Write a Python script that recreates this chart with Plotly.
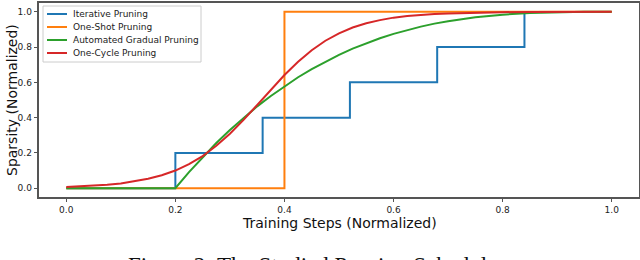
import plotly.graph_objects as go

# ---- data ----
t_grid = [0.0, 0.025, 0.05, 0.075, 0.1, 0.125, 0.15, 0.175, 0.2, 0.225, 0.25, 0.275,
          0.3, 0.325, 0.35, 0.375, 0.4, 0.425, 0.45, 0.475, 0.5, 0.525, 0.55, 0.575,
          0.6, 0.625, 0.65, 0.675, 0.7, 0.75, 0.8, 0.85, 0.9, 0.95, 1.0]

iter_x = [0.0, 0.2, 0.36, 0.52, 0.68, 0.84]
iter_y = [0.0, 0.2, 0.4, 0.6, 0.8, 1.0]

oneshot_x = [0.0, 0.4, 1.0]
oneshot_y = [0.0, 1.0, 1.0]

agp_y = [0.0, 0.0, 0.0, 0.0, 0.0, 0.0, 0.0, 0.0, 0.0, 0.091, 0.176, 0.256,
         0.330, 0.399, 0.464, 0.523, 0.578, 0.629, 0.675, 0.717, 0.756, 0.791, 0.822, 0.850,
         0.875, 0.897, 0.916, 0.933, 0.947, 0.969, 0.984, 0.993, 0.998, 1.0, 1.0]

onecycle_y = [0.007, 0.010, 0.014, 0.019, 0.027, 0.038, 0.053, 0.073, 0.100, 0.136, 0.182, 0.240,
              0.309, 0.387, 0.472, 0.559, 0.642, 0.717, 0.782, 0.836, 0.878, 0.911, 0.935, 0.953,
              0.967, 0.976, 0.983, 0.988, 0.991, 0.996, 0.998, 0.999, 0.999, 1.0, 1.0]

x_ticks = [0.0, 0.2, 0.4, 0.6, 0.8, 1.0]
y_ticks = [0.0, 0.2, 0.4, 0.6, 0.8, 1.0]
tick_labels = ["0.0", "0.2", "0.4", "0.6", "0.8", "1.0"]

names = ["Iterative Pruning", "One-Shot Pruning", "Automated Gradual Pruning", "One-Cycle Pruning"]
colors = ["#1f77b4", "#ff7f0e", "#2ca02c", "#d62728"]

fig = go.Figure()
fig.add_trace(go.Scatter(x=iter_x, y=iter_y, mode="lines", line_shape="hv",
                         name=names[0], line=dict(color=colors[0], width=2)))
fig.add_trace(go.Scatter(x=oneshot_x, y=oneshot_y, mode="lines", line_shape="hv",
                         name=names[1], line=dict(color=colors[1], width=2)))
fig.add_trace(go.Scatter(x=t_grid, y=agp_y, mode="lines",
                         name=names[2], line=dict(color=colors[2], width=2)))
fig.add_trace(go.Scatter(x=t_grid, y=onecycle_y, mode="lines",
                         name=names[3], line=dict(color=colors[3], width=2)))

axis_common = dict(showgrid=False, zeroline=False, showline=True, mirror=True,
                   linecolor="#555555", linewidth=1.5, ticks="outside", ticklen=3.5,
                   tickcolor="#555555", tickwidth=1, automargin=False,
                   tickfont=dict(family="DejaVu Sans", size=9, color="#222222"))

ML, MR, MT, MB, W, H = 39, 1, 3, 63, 640, 260
PW, PH = W - ML - MR, H - MT - MB

def px_x(px):
    return (px - ML) / PW

def px_y(py):
    return (H - MB - py) / PH

fig.update_layout(
    width=W, height=H,
    margin=dict(l=ML, r=MR, t=MT, b=MB, autoexpand=False),
    paper_bgcolor="white", plot_bgcolor="white",
    xaxis=dict(range=[-0.05, 1.05], tickvals=x_ticks, ticktext=tick_labels, **axis_common),
    yaxis=dict(range=[-0.05, 1.05], tickvals=y_ticks, ticktext=tick_labels, **axis_common),
    showlegend=False,
)

# legend box (drawn manually to match the compact matplotlib spacing)
fig.add_shape(type="rect", xref="paper", yref="paper",
              x0=px_x(43), x1=px_x(201), y0=px_y(62), y1=px_y(6),
              line=dict(color="#cccccc", width=1), fillcolor="rgba(255,255,255,0.85)",
              layer="above")
legend_rows = [14, 27, 40, 53]
for name, color, ry in zip(names, colors, legend_rows):
    fig.add_shape(type="line", xref="paper", yref="paper",
                  x0=px_x(47), x1=px_x(67), y0=px_y(ry), y1=px_y(ry),
                  line=dict(color=color, width=2), layer="above")
    fig.add_annotation(text=name, xref="paper", yref="paper",
                       x=px_x(71), y=px_y(ry), xanchor="left", yanchor="middle",
                       showarrow=False,
                       font=dict(family="DejaVu Sans", size=9, color="#222222"))

fig.add_annotation(text="Training Steps (Normalized)", xref="paper", yref="paper",
                   x=0.5, y=px_y(223), xanchor="center", yanchor="middle", showarrow=False,
                   font=dict(family="DejaVu Sans", size=14, color="#111111"))
fig.add_annotation(text="Sparsity (Normalized)", xref="paper", yref="paper",
                   x=px_x(12), y=0.5, xanchor="center", yanchor="middle", showarrow=False,
                   textangle=-90,
                   font=dict(family="DejaVu Sans", size=14, color="#111111"))
fig.add_annotation(text="Figure 2: The Studied Pruning Schedules", xref="paper", yref="paper",
                   x=px_x(316.5), y=px_y(265), xanchor="center", yanchor="middle", showarrow=False,
                   font=dict(family="Liberation Serif", size=23, color="#111111"))

fig.write_html("out.html", config={"displayModeBar": False},
               post_script="document.body.style.margin='0';document.body.style.overflow='hidden';")
